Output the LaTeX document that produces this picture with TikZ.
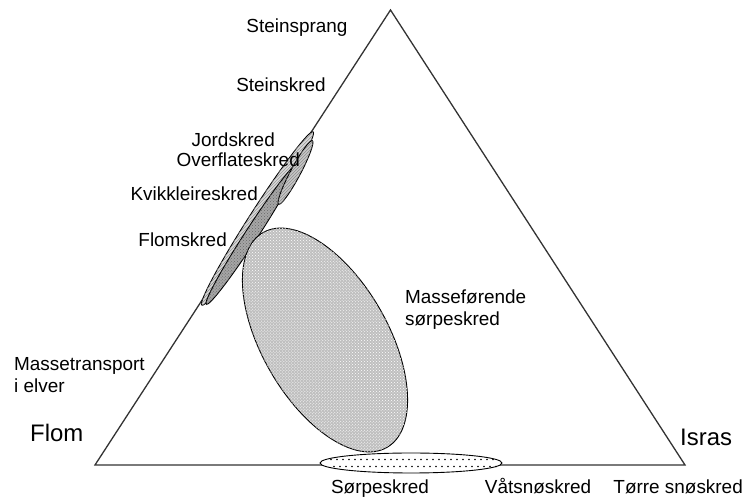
\documentclass[tikz,border=0pt]{standalone}
\usepackage{fontspec}
\setmainfont{Liberation Sans}
\usetikzlibrary{patterns, positioning}

\begin{document}
\begin{tikzpicture}[
    x=1bp, y=1bp,
    font=\fontsize{19}{22}\selectfont,
    skredtxt/.style={inner sep=0pt, align=left},
    hjorne/.style={inner sep=0pt, font=\fontsize{24}{28}\selectfont},
    kant/.style={line width=1.3bp, draw=black!80},
    omrade/.style={line width=0.9bp, draw=black}
]
\useasboundingbox (0,0) rectangle (745,499);

% trekanten
\coordinate (topp) at (390.5,489);
\coordinate (vhj) at (95,34);
\coordinate (hhj) at (685,34);
\draw[kant, line join=miter] (topp) -- (vhj) -- (hhj) -- cycle;

% smale omraader langs venstre side
\draw[omrade, fill=gray!30, postaction={pattern=north east lines, pattern color=black!45}, rotate around={57.3:(257.5,280.5)}] (257.5,280.5) ellipse (103 and 8);
\draw[omrade, fill=gray!70, postaction={pattern=crosshatch dots, pattern color=black!60}, rotate around={57:(252,265)}] (252,265) ellipse (84 and 6.5);
\draw[omrade, fill=gray!45, postaction={pattern=north east lines, pattern color=black!50}, rotate around={62:(295.5,326.5)}] (295.5,326.5) ellipse (36 and 5);

% masseførende sørpeskred
\draw[omrade, fill=gray!50, postaction={pattern=crosshatch dots, pattern color=white}, rotate around={30:(325,159)}] (325,159) ellipse (63 and 124);

% sørpeskred
\draw[omrade, fill=white] (411,36) ellipse (91 and 10);
\foreach \i in {0,...,27} {
    \fill (331+6*\i,39.5) circle (0.8);
    \fill (334+6*\i,32.5) circle (0.8);
}

% tekster
\node[skredtxt] (steinsprang) at (297,471) {Steinsprang};
\node[skredtxt] (steinskred) at (281,414) {Steinskred};
\node[skredtxt, anchor=east] (jordskred) at (275,359) {Jordskred};
\node[skredtxt, anchor=east] (overflate) at (300,339) {Overflateskred};
\node[skredtxt, anchor=east] (kvikkleire) at (258,305) {Kvikkleireskred};
\node[skredtxt, anchor=east] (flomskred) at (227,259) {Flomskred};
\node[skredtxt, anchor=west] (masseforende) at (405,189) {Masseførende\\sørpeskred};
\node[skredtxt, anchor=west] (massetransport) at (14,124) {Massetransport\\i elver};
\node[hjorne, anchor=west] (flom) at (30,66) {Flom};
\node[hjorne, anchor=west] (isras) at (680,62) {Isras};
\node[skredtxt, anchor=base] (sorpeskred) at (380,5) {Sørpeskred};
\node[skredtxt, anchor=base] (vatsno) at (538,5) {Våtsnøskred};
\node[skredtxt, anchor=base east] (torrsno) at (743,5) {Tørre snøskred};

\end{tikzpicture}
\end{document}
